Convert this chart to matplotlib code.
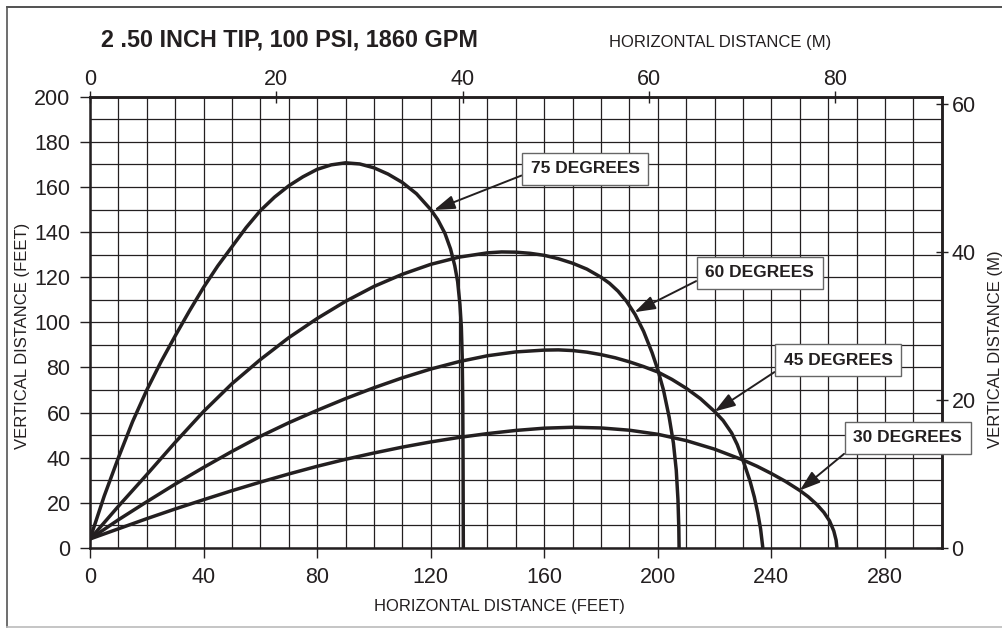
import matplotlib
matplotlib.use('Agg')
import matplotlib.pyplot as plt
from matplotlib.lines import Line2D
import numpy as np

plt.rcParams['font.family'] = ['Liberation Sans', 'DejaVu Sans']

INK = '#231f20'
FT2M = 0.3048

# stream trajectories, feet
x75 = [0, 5, 10, 15, 20, 25, 30, 35, 40, 45, 50, 55, 60, 65, 70, 75, 80, 85,
       90, 95, 100, 105, 110, 115, 120, 122.5, 125, 127, 128.5, 129.5, 130.3,
       130.8, 131.1, 131.3, 131.4, 131.5]
y75 = [4, 23, 40, 56, 70, 82.5, 94, 105, 115.5, 125, 133.5, 142, 149.5, 155.5,
       160.5, 164.5, 167.8, 169.8, 170.7, 170.2, 168.5, 165.7, 162, 157, 150,
       145.5, 139.5, 132.5, 125, 118, 108, 98, 85, 65, 40, 0]

x60 = [0, 10, 20, 30, 40, 50, 60, 70, 80, 90, 100, 110, 120, 130, 140, 145,
       150, 155, 160, 165, 170, 175, 180, 183, 186, 189, 192, 195, 198, 200,
       202, 204, 205.5, 206.5, 207.1, 207.4, 207.5]
y60 = [4, 18.5, 32.5, 46.8, 60.5, 72.8, 83.5, 93.2, 101.7, 109.3, 115.9, 121.3,
       125.7, 128.9, 130.8, 131.2, 131.1, 130.6, 129.7, 128.2, 126.2, 123.6,
       120, 117.3, 113.8, 109.3, 103.5, 96, 86.5, 79, 70, 58, 46.5, 34.5, 21.5,
       9, 0]

x45 = [0, 10, 20, 30, 40, 50, 60, 70, 80, 90, 100, 110, 120, 130, 140, 150,
       160, 165, 170, 175, 180, 185, 190, 195, 200, 205, 210, 215, 220, 223,
       226, 228, 229.4, 231, 232.5, 234, 235.2, 236.2, 237]
y45 = [4, 12.5, 20.5, 28.3, 35.7, 42.8, 49.5, 55.5, 61, 66.2, 71, 75.4, 79.3,
       82.6, 85.2, 86.9, 87.7, 87.8, 87.5, 86.8, 85.7, 84.3, 82.5, 80.4, 78,
       74.7, 70.8, 66.2, 60.5, 56.5, 51, 45.8, 41, 35.2, 29.6, 22.6, 15.6, 8.5,
       0]

x30 = [0, 10, 20, 30, 40, 50, 60, 70, 80, 90, 100, 110, 120, 130, 140, 150,
       160, 170, 180, 190, 200, 210, 220, 230, 235, 240, 245, 250, 253, 256,
       258.5, 260.5, 262, 262.8, 263.1]
y30 = [4, 8.5, 13, 17.3, 21.4, 25.4, 29.2, 32.8, 36.2, 39.3, 42.1, 44.7, 47,
       49, 50.7, 52.1, 53.1, 53.5, 53.2, 52.2, 50.4, 47.6, 43.8, 39, 36.2, 33,
       29.5, 25.5, 22.7, 19.3, 15.8, 12, 7.5, 3.5, 0]

labels = ['75 DEGREES', '60 DEGREES', '45 DEGREES', '30 DEGREES']
arrow_tips = [(121.2, 149.8), (191.8, 104.5), (220, 60.5), (250, 25.5)]
label_at = [(174.4, 168), (235.9, 122), (263.5, 83.3), (288, 48.8)]
arrow_start = [(0, 0.3), (0, 0.25), (0, 0.1), (0.01, 0)]

fig = plt.figure(figsize=(10.03, 6.29), dpi=100)
ax = fig.add_axes([90 / 1003, 1 - 548 / 629, 851.7 / 1003, 451.3 / 629])

# grid every 10 ft
ax.set_xticks(np.arange(0, 301, 10), minor=True)
ax.set_yticks(np.arange(0, 201, 10), minor=True)
ax.grid(which='both', color=INK, lw=0.9)
ax.set_axisbelow(True)

for xs, ys in [(x75, y75), (x60, y60), (x45, y45), (x30, y30)]:
    ax.plot(xs, ys, color=INK, lw=2.5, solid_joinstyle='round',
            solid_capstyle='butt', zorder=3)

ax.set_xlim(0, 300)
ax.set_ylim(0, 200)
ax.set_xticks(np.arange(0, 281, 40))
ax.set_yticks(np.arange(0, 201, 20))
ax.tick_params(which='minor', length=0)
ax.tick_params(which='major', direction='out', length=7, width=1,
               color=INK, labelsize=15.5, labelcolor=INK, pad=7)
for s in ax.spines.values():
    s.set_linewidth(1.8)
    s.set_color(INK)

top = ax.secondary_xaxis('top', functions=(lambda v: v * FT2M, lambda v: v / FT2M))
top.set_xticks([0, 20, 40, 60, 80])
top.tick_params(direction='inout', length=8, width=1, color=INK,
                labelsize=15.5, labelcolor=INK, pad=1)
right = ax.secondary_yaxis('right', functions=(lambda v: v * FT2M, lambda v: v / FT2M))
right.set_yticks([0, 20, 40, 60])
right.tick_params(direction='inout', length=8, width=1, color=INK,
                  labelsize=15.5, labelcolor=INK, pad=3)
for sec in (top, right):
    for s in sec.spines.values():
        s.set_linewidth(1.8)
        s.set_color(INK)

for txt, tip, pos, rel in zip(labels, arrow_tips, label_at, arrow_start):
    ax.annotate(txt, xy=tip, xytext=pos, ha='center', va='center',
                fontsize=12.5, fontweight='bold', color=INK, zorder=5,
                bbox=dict(boxstyle='square,pad=0.5', fc='white', ec='#666666', lw=1),
                arrowprops=dict(arrowstyle='-|>,head_length=0.9,head_width=0.3',
                                color=INK, lw=1.4, relpos=rel,
                                shrinkA=0, shrinkB=0, mutation_scale=14))

fig.text(290 / 1003, 1 - 39.5 / 629, '2 .50 INCH TIP, 100 PSI, 1860 GPM',
         ha='center', va='center', fontsize=16.8, fontweight='bold', color=INK)
fig.text(720 / 1003, 1 - 42 / 629, 'HORIZONTAL DISTANCE (M)',
         ha='center', va='center', fontsize=12, color=INK)
fig.text(499 / 1003, 1 - 606 / 629, 'HORIZONTAL DISTANCE (FEET)',
         ha='center', va='center', fontsize=12, color=INK)
fig.text(22.5 / 1003, 1 - 336 / 629, 'VERTICAL DISTANCE (FEET)', rotation=90,
         ha='center', va='center', fontsize=12, color=INK)
fig.text(996 / 1003, 1 - 349 / 629, 'VERTICAL DISTANCE (M)', rotation=90,
         ha='center', va='center', fontsize=12, color=INK)

# outer frame (open on the right)
fig.add_artist(Line2D([7 / 1003, 1], [1 - 7 / 629] * 2, color='#333333', lw=1.2))
fig.add_artist(Line2D([7 / 1003] * 2, [1 - 7 / 629, 1 - 627 / 629], color='#555555', lw=1.2))
fig.add_artist(Line2D([7 / 1003, 1], [1 - 627 / 629] * 2, color='#bbbbbb', lw=1.2))

fig.savefig('out.png', dpi=100)
